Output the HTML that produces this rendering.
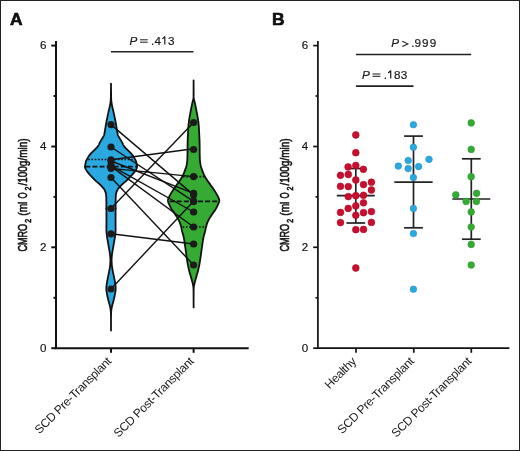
<!DOCTYPE html>
<html><head><meta charset="utf-8"><style>
html,body{margin:0;padding:0;background:#fff;}
svg{display:block;will-change:transform;}
text{font-family:"Liberation Sans",sans-serif;fill:#111;}
.lbl{font-weight:bold;font-size:17.4px;stroke:#000;stroke-width:0.6px;}
.tk{font-size:11.6px;stroke:#111;stroke-width:0.15px;}
.xl{font-size:12px;letter-spacing:-0.3px;fill:#1a1a1a;}
.pv{font-size:11.7px;fill:#1a1a1a;stroke:#1a1a1a;stroke-width:0.2px;}
.yl{stroke:#111;stroke-width:0.6px;}
.sub{font-size:9.5px;}
.ax{stroke:#111;stroke-width:2;}
.ax2{stroke:#111;stroke-width:1.7;}
.sb{stroke:#222;stroke-width:1.6;}
.eb{stroke:#222;stroke-width:1.7;}
.pl{stroke:#111;stroke-width:1.4;}
.qd{stroke:#111;stroke-width:1.6;stroke-dasharray:1.6 1.7;}
.md{stroke:#111;stroke-width:1.8;stroke-dasharray:5 2.1;}
</style></head><body>
<svg width="520" height="451" viewBox="0 0 520 451">
<rect x="0.5" y="0.5" width="519" height="450" fill="none" stroke="#222" stroke-width="1"/>
<text x="10" y="25" class="lbl">A</text>
<line x1="56" y1="41" x2="56" y2="349.1" class="ax"/>
<line x1="51.3" y1="348.2" x2="56" y2="348.2" class="ax"/>
<text x="46.5" y="351.6" class="tk" text-anchor="end">0</text>
<line x1="51.3" y1="247.3" x2="56" y2="247.3" class="ax"/>
<text x="46.5" y="250.7" class="tk" text-anchor="end">2</text>
<line x1="51.3" y1="146.5" x2="56" y2="146.5" class="ax"/>
<text x="46.5" y="149.9" class="tk" text-anchor="end">4</text>
<line x1="51.3" y1="45.6" x2="56" y2="45.6" class="ax"/>
<text x="46.5" y="49.0" class="tk" text-anchor="end">6</text>
<line x1="53.5" y1="297.8" x2="56" y2="297.8" class="ax"/>
<line x1="53.5" y1="196.9" x2="56" y2="196.9" class="ax"/>
<line x1="53.5" y1="96.0" x2="56" y2="96.0" class="ax"/>
<line x1="55" y1="348.2" x2="248.7" y2="348.2" class="ax"/>
<line x1="111.0" y1="348.2" x2="111.0" y2="352.8" class="ax"/>
<line x1="193.6" y1="348.2" x2="193.6" y2="352.8" class="ax"/>
<text class="yl" font-size="13.0" transform="translate(27.00,251.60) rotate(-90) scale(0.7,1)">CMRO</text><text class="yl" font-size="8.8" transform="translate(31.30,222.80) rotate(-90) scale(0.8,1)">2</text><text class="yl" font-size="13.0" transform="translate(27.00,215.70) rotate(-90) scale(0.78,1)">(ml</text><text class="yl" font-size="13.0" transform="translate(27.00,198.40) rotate(-90) scale(0.61,1)">O</text><text class="yl" font-size="8.8" transform="translate(31.30,190.40) rotate(-90) scale(0.8,1)">2</text><text class="yl" font-size="13.0" transform="translate(27.00,185.60) rotate(-90) scale(0.77,1)">/100g/min)</text>
<text class="xl" text-anchor="end" transform="translate(111.8,362.2) rotate(-45)">SCD Pre-Transplant</text>
<text class="xl" text-anchor="end" transform="translate(194.4,362.2) rotate(-45)">SCD Post-Transplant</text>
<line x1="111" y1="51.8" x2="193.5" y2="51.8" class="sb"/>
<text x="129.5" y="44.8" class="pv" font-style="italic" font-size="12.5">P</text>
<rect x="140" y="39.3" width="7.7" height="1.0" fill="#1a1a1a"/><rect x="140" y="41.7" width="7.7" height="1.0" fill="#1a1a1a"/>
<text x="150.93 154.5" y="44.6" class="pv">.4</text><text x="168.0" y="44.6" class="pv">3</text>
<path d="M164.8,44.6 V36.7 L162.4,38.9" fill="none" stroke="#1a1a1a" stroke-width="1.2" stroke-linejoin="round"/>
<path d="M111.00,83.60 L111.00,84.10 L111.00,84.60 L111.01,85.10 L111.01,85.60 L111.01,86.10 L111.01,86.60 L111.02,87.10 L111.02,87.60 L111.03,88.10 L111.03,88.60 L111.03,89.10 L111.04,89.60 L111.04,90.10 L111.05,90.60 L111.05,91.10 L111.06,91.60 L111.07,92.10 L111.07,92.60 L111.08,93.10 L111.08,93.60 L111.09,94.10 L111.10,94.60 L111.10,95.10 L111.11,95.60 L111.11,96.10 L111.12,96.60 L111.13,97.10 L111.14,97.60 L111.16,98.10 L111.18,98.60 L111.20,99.10 L111.24,99.60 L111.27,100.10 L111.32,100.60 L111.36,101.10 L111.42,101.60 L111.48,102.10 L111.54,102.60 L111.62,103.10 L111.70,103.60 L111.78,104.10 L111.87,104.60 L111.96,105.10 L112.05,105.60 L112.15,106.10 L112.26,106.60 L112.38,107.10 L112.49,107.60 L112.61,108.10 L112.73,108.60 L112.85,109.10 L112.97,109.60 L113.09,110.10 L113.21,110.60 L113.32,111.10 L113.43,111.60 L113.54,112.10 L113.66,112.60 L113.77,113.10 L113.88,113.60 L113.99,114.10 L114.10,114.60 L114.21,115.10 L114.31,115.60 L114.42,116.10 L114.53,116.60 L114.63,117.10 L114.73,117.60 L114.83,118.10 L114.93,118.60 L115.03,119.10 L115.13,119.60 L115.23,120.10 L115.33,120.60 L115.42,121.10 L115.52,121.60 L115.61,122.10 L115.70,122.60 L115.79,123.10 L115.89,123.60 L115.97,124.10 L116.06,124.60 L116.15,125.10 L116.23,125.60 L116.31,126.10 L116.40,126.60 L116.48,127.10 L116.56,127.60 L116.64,128.10 L116.73,128.60 L116.81,129.10 L116.90,129.60 L116.98,130.10 L117.06,130.60 L117.14,131.10 L117.21,131.60 L117.29,132.10 L117.37,132.60 L117.47,133.10 L117.57,133.60 L117.68,134.10 L117.82,134.60 L117.99,135.10 L118.19,135.60 L118.43,136.10 L118.70,136.60 L118.97,137.10 L119.25,137.60 L119.53,138.10 L119.82,138.60 L120.12,139.10 L120.44,139.60 L120.75,140.10 L121.07,140.60 L121.37,141.10 L121.66,141.60 L121.93,142.10 L122.18,142.60 L122.41,143.10 L122.63,143.60 L122.86,144.10 L123.10,144.60 L123.38,145.10 L123.69,145.60 L124.04,146.10 L124.42,146.60 L124.82,147.10 L125.24,147.60 L125.69,148.10 L126.17,148.60 L126.67,149.10 L127.19,149.60 L127.70,150.10 L128.22,150.60 L128.74,151.10 L129.27,151.60 L129.79,152.10 L130.29,152.60 L130.78,153.10 L131.23,153.60 L131.65,154.10 L132.05,154.60 L132.42,155.10 L132.78,155.60 L133.13,156.10 L133.46,156.60 L133.77,157.10 L134.08,157.60 L134.37,158.10 L134.67,158.60 L134.95,159.10 L135.22,159.60 L135.48,160.10 L135.71,160.60 L135.92,161.10 L136.09,161.60 L136.23,162.10 L136.35,162.60 L136.46,163.10 L136.56,163.60 L136.65,164.10 L136.74,164.60 L136.83,165.10 L136.92,165.60 L137.01,166.10 L137.05,166.60 L137.02,167.10 L136.90,167.60 L136.72,168.10 L136.49,168.60 L136.25,169.10 L135.99,169.60 L135.71,170.10 L135.41,170.60 L135.07,171.10 L134.71,171.60 L134.34,172.10 L133.95,172.60 L133.55,173.10 L133.15,173.60 L132.72,174.10 L132.28,174.60 L131.81,175.10 L131.34,175.60 L130.86,176.10 L130.38,176.60 L129.90,177.10 L129.43,177.60 L128.96,178.10 L128.49,178.60 L128.01,179.10 L127.52,179.60 L127.03,180.10 L126.51,180.60 L125.97,181.10 L125.41,181.60 L124.82,182.10 L124.21,182.60 L123.61,183.10 L123.04,183.60 L122.49,184.10 L121.96,184.60 L121.44,185.10 L120.95,185.60 L120.47,186.10 L120.00,186.60 L119.55,187.10 L119.11,187.60 L118.69,188.10 L118.30,188.60 L117.95,189.10 L117.64,189.60 L117.36,190.10 L117.11,190.60 L116.88,191.10 L116.68,191.60 L116.51,192.10 L116.36,192.60 L116.23,193.10 L116.12,193.60 L116.02,194.10 L115.94,194.60 L115.89,195.10 L115.84,195.60 L115.80,196.10 L115.77,196.60 L115.74,197.10 L115.72,197.60 L115.70,198.10 L115.69,198.60 L115.68,199.10 L115.67,199.60 L115.66,200.10 L115.65,200.60 L115.64,201.10 L115.63,201.60 L115.63,202.10 L115.62,202.60 L115.62,203.10 L115.61,203.60 L115.61,204.10 L115.60,204.60 L115.60,205.10 L115.60,205.60 L115.59,206.10 L115.59,206.60 L115.59,207.10 L115.58,207.60 L115.58,208.10 L115.58,208.60 L115.58,209.10 L115.57,209.60 L115.57,210.10 L115.57,210.60 L115.57,211.10 L115.56,211.60 L115.56,212.10 L115.56,212.60 L115.56,213.10 L115.56,213.60 L115.56,214.10 L115.55,214.60 L115.55,215.10 L115.55,215.60 L115.55,216.10 L115.55,216.60 L115.55,217.10 L115.55,217.60 L115.55,218.10 L115.55,218.60 L115.55,219.10 L115.55,219.60 L115.55,220.10 L115.56,220.60 L115.56,221.10 L115.56,221.60 L115.56,222.10 L115.57,222.60 L115.57,223.10 L115.57,223.60 L115.58,224.10 L115.58,224.60 L115.58,225.10 L115.58,225.60 L115.59,226.10 L115.59,226.60 L115.59,227.10 L115.59,227.60 L115.60,228.10 L115.60,228.60 L115.60,229.10 L115.60,229.60 L115.60,230.10 L115.59,230.60 L115.57,231.10 L115.54,231.60 L115.50,232.10 L115.45,232.60 L115.40,233.10 L115.35,233.60 L115.30,234.10 L115.24,234.60 L115.19,235.10 L115.13,235.60 L115.06,236.10 L114.99,236.60 L114.92,237.10 L114.84,237.60 L114.76,238.10 L114.68,238.60 L114.60,239.10 L114.52,239.60 L114.43,240.10 L114.35,240.60 L114.27,241.10 L114.19,241.60 L114.10,242.10 L114.02,242.60 L113.93,243.10 L113.84,243.60 L113.76,244.10 L113.67,244.60 L113.58,245.10 L113.49,245.60 L113.40,246.10 L113.31,246.60 L113.22,247.10 L113.12,247.60 L113.03,248.10 L112.94,248.60 L112.85,249.10 L112.77,249.60 L112.68,250.10 L112.60,250.60 L112.52,251.10 L112.43,251.60 L112.35,252.10 L112.27,252.60 L112.19,253.10 L112.12,253.60 L112.05,254.10 L111.99,254.60 L111.94,255.10 L111.89,255.60 L111.84,256.10 L111.80,256.60 L111.75,257.10 L111.71,257.60 L111.67,258.10 L111.64,258.60 L111.62,259.10 L111.61,259.60 L111.60,260.10 L111.61,260.60 L111.62,261.10 L111.64,261.60 L111.66,262.10 L111.69,262.60 L111.72,263.10 L111.75,263.60 L111.78,264.10 L111.82,264.60 L111.86,265.10 L111.91,265.60 L111.97,266.10 L112.03,266.60 L112.10,267.10 L112.18,267.60 L112.27,268.10 L112.35,268.60 L112.44,269.10 L112.53,269.60 L112.62,270.10 L112.71,270.60 L112.80,271.10 L112.90,271.60 L113.00,272.10 L113.10,272.60 L113.21,273.10 L113.31,273.60 L113.42,274.10 L113.52,274.60 L113.62,275.10 L113.72,275.60 L113.82,276.10 L113.92,276.60 L114.03,277.10 L114.13,277.60 L114.23,278.10 L114.33,278.60 L114.43,279.10 L114.52,279.60 L114.62,280.10 L114.71,280.60 L114.81,281.10 L114.91,281.60 L115.00,282.10 L115.09,282.60 L115.17,283.10 L115.24,283.60 L115.31,284.10 L115.38,284.60 L115.44,285.10 L115.50,285.60 L115.56,286.10 L115.61,286.60 L115.65,287.10 L115.68,287.60 L115.69,288.10 L115.69,288.60 L115.67,289.10 L115.64,289.60 L115.59,290.10 L115.54,290.60 L115.47,291.10 L115.40,291.60 L115.32,292.10 L115.23,292.60 L115.14,293.10 L115.05,293.60 L114.96,294.10 L114.87,294.60 L114.78,295.10 L114.69,295.60 L114.60,296.10 L114.49,296.60 L114.39,297.10 L114.28,297.60 L114.16,298.10 L114.04,298.60 L113.92,299.10 L113.80,299.60 L113.68,300.10 L113.55,300.60 L113.42,301.10 L113.30,301.60 L113.17,302.10 L113.03,302.60 L112.89,303.10 L112.75,303.60 L112.60,304.10 L112.46,304.60 L112.33,305.10 L112.20,305.60 L112.08,306.10 L111.97,306.60 L111.85,307.10 L111.75,307.60 L111.65,308.10 L111.56,308.60 L111.47,309.10 L111.40,309.60 L111.34,310.10 L111.28,310.60 L111.23,311.10 L111.19,311.60 L111.15,312.10 L111.12,312.60 L111.10,313.10 L111.09,313.60 L111.07,314.10 L111.06,314.60 L111.05,315.10 L111.04,315.60 L111.03,316.10 L111.03,316.60 L111.02,317.10 L111.01,317.60 L111.01,318.10 L111.00,318.60 L111.00,319.10 L111.00,319.60 L111.00,320.10 L111.00,320.60 L111.00,321.10 L111.00,321.60 L111.00,322.10 L111.00,322.60 L111.00,323.10 L111.00,323.60 L111.00,324.10 L111.00,324.60 L111.00,325.10 L111.00,325.60 L111.00,326.10 L111.00,326.60 L111.00,327.10 L111.00,327.60 L111.00,328.10 L111.00,328.60 L111.00,329.10 L111.00,329.60 L111.00,330.10 L111.00,330.60 L111.00,330.60 L111.00,330.10 L111.00,329.60 L111.00,329.10 L111.00,328.60 L111.00,328.10 L111.00,327.60 L111.00,327.10 L111.00,326.60 L111.00,326.10 L111.00,325.60 L111.00,325.10 L111.00,324.60 L111.00,324.10 L111.00,323.60 L111.00,323.10 L111.00,322.60 L111.00,322.10 L111.00,321.60 L111.00,321.10 L111.00,320.60 L111.00,320.10 L111.00,319.60 L111.00,319.10 L111.00,318.60 L110.99,318.10 L110.99,317.60 L110.98,317.10 L110.97,316.60 L110.97,316.10 L110.96,315.60 L110.95,315.10 L110.94,314.60 L110.93,314.10 L110.91,313.60 L110.90,313.10 L110.88,312.60 L110.85,312.10 L110.81,311.60 L110.77,311.10 L110.72,310.60 L110.66,310.10 L110.60,309.60 L110.53,309.10 L110.44,308.60 L110.35,308.10 L110.25,307.60 L110.15,307.10 L110.03,306.60 L109.92,306.10 L109.80,305.60 L109.67,305.10 L109.54,304.60 L109.40,304.10 L109.25,303.60 L109.11,303.10 L108.97,302.60 L108.83,302.10 L108.70,301.60 L108.58,301.10 L108.45,300.60 L108.32,300.10 L108.20,299.60 L108.08,299.10 L107.96,298.60 L107.84,298.10 L107.72,297.60 L107.61,297.10 L107.51,296.60 L107.40,296.10 L107.31,295.60 L107.22,295.10 L107.13,294.60 L107.04,294.10 L106.95,293.60 L106.86,293.10 L106.77,292.60 L106.68,292.10 L106.60,291.60 L106.53,291.10 L106.46,290.60 L106.41,290.10 L106.36,289.60 L106.33,289.10 L106.31,288.60 L106.31,288.10 L106.32,287.60 L106.35,287.10 L106.39,286.60 L106.44,286.10 L106.50,285.60 L106.56,285.10 L106.62,284.60 L106.69,284.10 L106.76,283.60 L106.83,283.10 L106.91,282.60 L107.00,282.10 L107.09,281.60 L107.19,281.10 L107.29,280.60 L107.38,280.10 L107.48,279.60 L107.57,279.10 L107.67,278.60 L107.77,278.10 L107.87,277.60 L107.97,277.10 L108.08,276.60 L108.18,276.10 L108.28,275.60 L108.38,275.10 L108.48,274.60 L108.58,274.10 L108.69,273.60 L108.79,273.10 L108.90,272.60 L109.00,272.10 L109.10,271.60 L109.20,271.10 L109.29,270.60 L109.38,270.10 L109.47,269.60 L109.56,269.10 L109.65,268.60 L109.73,268.10 L109.82,267.60 L109.90,267.10 L109.97,266.60 L110.03,266.10 L110.09,265.60 L110.14,265.10 L110.18,264.60 L110.22,264.10 L110.25,263.60 L110.28,263.10 L110.31,262.60 L110.34,262.10 L110.36,261.60 L110.38,261.10 L110.39,260.60 L110.40,260.10 L110.39,259.60 L110.38,259.10 L110.36,258.60 L110.33,258.10 L110.29,257.60 L110.25,257.10 L110.20,256.60 L110.16,256.10 L110.11,255.60 L110.06,255.10 L110.01,254.60 L109.95,254.10 L109.88,253.60 L109.81,253.10 L109.73,252.60 L109.65,252.10 L109.57,251.60 L109.48,251.10 L109.40,250.60 L109.32,250.10 L109.23,249.60 L109.15,249.10 L109.06,248.60 L108.97,248.10 L108.88,247.60 L108.78,247.10 L108.69,246.60 L108.60,246.10 L108.51,245.60 L108.42,245.10 L108.33,244.60 L108.24,244.10 L108.16,243.60 L108.07,243.10 L107.98,242.60 L107.90,242.10 L107.81,241.60 L107.73,241.10 L107.65,240.60 L107.57,240.10 L107.48,239.60 L107.40,239.10 L107.32,238.60 L107.24,238.10 L107.16,237.60 L107.08,237.10 L107.01,236.60 L106.94,236.10 L106.87,235.60 L106.81,235.10 L106.76,234.60 L106.70,234.10 L106.65,233.60 L106.60,233.10 L106.55,232.60 L106.50,232.10 L106.46,231.60 L106.43,231.10 L106.41,230.60 L106.40,230.10 L106.40,229.60 L106.40,229.10 L106.40,228.60 L106.40,228.10 L106.41,227.60 L106.41,227.10 L106.41,226.60 L106.41,226.10 L106.42,225.60 L106.42,225.10 L106.42,224.60 L106.42,224.10 L106.43,223.60 L106.43,223.10 L106.43,222.60 L106.44,222.10 L106.44,221.60 L106.44,221.10 L106.44,220.60 L106.45,220.10 L106.45,219.60 L106.45,219.10 L106.45,218.60 L106.45,218.10 L106.45,217.60 L106.45,217.10 L106.45,216.60 L106.45,216.10 L106.45,215.60 L106.45,215.10 L106.45,214.60 L106.44,214.10 L106.44,213.60 L106.44,213.10 L106.44,212.60 L106.44,212.10 L106.44,211.60 L106.43,211.10 L106.43,210.60 L106.43,210.10 L106.43,209.60 L106.42,209.10 L106.42,208.60 L106.42,208.10 L106.42,207.60 L106.41,207.10 L106.41,206.60 L106.41,206.10 L106.40,205.60 L106.40,205.10 L106.40,204.60 L106.39,204.10 L106.39,203.60 L106.38,203.10 L106.38,202.60 L106.37,202.10 L106.37,201.60 L106.36,201.10 L106.35,200.60 L106.34,200.10 L106.33,199.60 L106.32,199.10 L106.31,198.60 L106.30,198.10 L106.28,197.60 L106.26,197.10 L106.23,196.60 L106.20,196.10 L106.16,195.60 L106.11,195.10 L106.06,194.60 L105.98,194.10 L105.88,193.60 L105.77,193.10 L105.64,192.60 L105.49,192.10 L105.32,191.60 L105.12,191.10 L104.89,190.60 L104.64,190.10 L104.36,189.60 L104.05,189.10 L103.70,188.60 L103.31,188.10 L102.89,187.60 L102.45,187.10 L102.00,186.60 L101.53,186.10 L101.05,185.60 L100.56,185.10 L100.04,184.60 L99.51,184.10 L98.96,183.60 L98.39,183.10 L97.79,182.60 L97.18,182.10 L96.59,181.60 L96.03,181.10 L95.49,180.60 L94.97,180.10 L94.48,179.60 L93.99,179.10 L93.51,178.60 L93.04,178.10 L92.57,177.60 L92.10,177.10 L91.62,176.60 L91.14,176.10 L90.66,175.60 L90.19,175.10 L89.72,174.60 L89.28,174.10 L88.85,173.60 L88.45,173.10 L88.05,172.60 L87.66,172.10 L87.29,171.60 L86.93,171.10 L86.59,170.60 L86.29,170.10 L86.01,169.60 L85.75,169.10 L85.51,168.60 L85.28,168.10 L85.10,167.60 L84.98,167.10 L84.95,166.60 L84.99,166.10 L85.08,165.60 L85.17,165.10 L85.26,164.60 L85.35,164.10 L85.44,163.60 L85.54,163.10 L85.65,162.60 L85.77,162.10 L85.91,161.60 L86.08,161.10 L86.29,160.60 L86.52,160.10 L86.78,159.60 L87.05,159.10 L87.33,158.60 L87.63,158.10 L87.92,157.60 L88.23,157.10 L88.54,156.60 L88.87,156.10 L89.22,155.60 L89.58,155.10 L89.95,154.60 L90.35,154.10 L90.77,153.60 L91.22,153.10 L91.71,152.60 L92.21,152.10 L92.73,151.60 L93.26,151.10 L93.78,150.60 L94.30,150.10 L94.81,149.60 L95.33,149.10 L95.83,148.60 L96.31,148.10 L96.76,147.60 L97.18,147.10 L97.58,146.60 L97.96,146.10 L98.31,145.60 L98.62,145.10 L98.90,144.60 L99.14,144.10 L99.37,143.60 L99.59,143.10 L99.82,142.60 L100.07,142.10 L100.34,141.60 L100.63,141.10 L100.93,140.60 L101.25,140.10 L101.56,139.60 L101.88,139.10 L102.18,138.60 L102.47,138.10 L102.75,137.60 L103.03,137.10 L103.30,136.60 L103.57,136.10 L103.81,135.60 L104.01,135.10 L104.18,134.60 L104.32,134.10 L104.43,133.60 L104.53,133.10 L104.63,132.60 L104.71,132.10 L104.79,131.60 L104.86,131.10 L104.94,130.60 L105.02,130.10 L105.10,129.60 L105.19,129.10 L105.27,128.60 L105.36,128.10 L105.44,127.60 L105.52,127.10 L105.60,126.60 L105.69,126.10 L105.77,125.60 L105.85,125.10 L105.94,124.60 L106.03,124.10 L106.11,123.60 L106.21,123.10 L106.30,122.60 L106.39,122.10 L106.48,121.60 L106.58,121.10 L106.67,120.60 L106.77,120.10 L106.87,119.60 L106.97,119.10 L107.07,118.60 L107.17,118.10 L107.27,117.60 L107.37,117.10 L107.47,116.60 L107.58,116.10 L107.69,115.60 L107.79,115.10 L107.90,114.60 L108.01,114.10 L108.12,113.60 L108.23,113.10 L108.34,112.60 L108.46,112.10 L108.57,111.60 L108.68,111.10 L108.79,110.60 L108.91,110.10 L109.03,109.60 L109.15,109.10 L109.27,108.60 L109.39,108.10 L109.51,107.60 L109.62,107.10 L109.74,106.60 L109.85,106.10 L109.95,105.60 L110.04,105.10 L110.13,104.60 L110.22,104.10 L110.30,103.60 L110.38,103.10 L110.46,102.60 L110.52,102.10 L110.58,101.60 L110.64,101.10 L110.68,100.60 L110.73,100.10 L110.76,99.60 L110.80,99.10 L110.82,98.60 L110.84,98.10 L110.86,97.60 L110.87,97.10 L110.88,96.60 L110.89,96.10 L110.89,95.60 L110.90,95.10 L110.90,94.60 L110.91,94.10 L110.92,93.60 L110.92,93.10 L110.93,92.60 L110.93,92.10 L110.94,91.60 L110.95,91.10 L110.95,90.60 L110.96,90.10 L110.96,89.60 L110.97,89.10 L110.97,88.60 L110.97,88.10 L110.98,87.60 L110.98,87.10 L110.99,86.60 L110.99,86.10 L110.99,85.60 L110.99,85.10 L111.00,84.60 L111.00,84.10 L111.00,83.60 Z" fill="#2AA8E0" stroke="#111" stroke-width="1.8" stroke-linejoin="round"/>
<path d="M193.60,80.40 L193.60,80.90 L193.60,81.40 L193.60,81.90 L193.60,82.40 L193.60,82.90 L193.60,83.40 L193.60,83.90 L193.60,84.40 L193.61,84.90 L193.61,85.40 L193.61,85.90 L193.61,86.40 L193.61,86.90 L193.61,87.40 L193.62,87.90 L193.62,88.40 L193.62,88.90 L193.62,89.40 L193.62,89.90 L193.63,90.40 L193.63,90.90 L193.63,91.40 L193.64,91.90 L193.64,92.40 L193.64,92.90 L193.65,93.40 L193.65,93.90 L193.65,94.40 L193.66,94.90 L193.67,95.40 L193.68,95.90 L193.70,96.40 L193.72,96.90 L193.76,97.40 L193.82,97.90 L193.88,98.40 L193.96,98.90 L194.04,99.40 L194.13,99.90 L194.24,100.40 L194.36,100.90 L194.49,101.40 L194.62,101.90 L194.75,102.40 L194.87,102.90 L194.98,103.40 L195.09,103.90 L195.19,104.40 L195.29,104.90 L195.39,105.40 L195.49,105.90 L195.59,106.40 L195.69,106.90 L195.79,107.40 L195.88,107.90 L195.98,108.40 L196.08,108.90 L196.18,109.40 L196.28,109.90 L196.38,110.40 L196.48,110.90 L196.58,111.40 L196.68,111.90 L196.78,112.40 L196.87,112.90 L196.97,113.40 L197.06,113.90 L197.16,114.40 L197.25,114.90 L197.34,115.40 L197.42,115.90 L197.51,116.40 L197.60,116.90 L197.69,117.40 L197.77,117.90 L197.86,118.40 L197.94,118.90 L198.02,119.40 L198.09,119.90 L198.17,120.40 L198.23,120.90 L198.30,121.40 L198.36,121.90 L198.42,122.40 L198.47,122.90 L198.53,123.40 L198.58,123.90 L198.63,124.40 L198.68,124.90 L198.73,125.40 L198.77,125.90 L198.81,126.40 L198.85,126.90 L198.89,127.40 L198.92,127.90 L198.95,128.40 L198.98,128.90 L199.00,129.40 L199.03,129.90 L199.05,130.40 L199.07,130.90 L199.10,131.40 L199.12,131.90 L199.14,132.40 L199.16,132.90 L199.19,133.40 L199.21,133.90 L199.24,134.40 L199.26,134.90 L199.29,135.40 L199.31,135.90 L199.34,136.40 L199.37,136.90 L199.39,137.40 L199.41,137.90 L199.44,138.40 L199.46,138.90 L199.48,139.40 L199.50,139.90 L199.52,140.40 L199.54,140.90 L199.56,141.40 L199.57,141.90 L199.58,142.40 L199.59,142.90 L199.60,143.40 L199.61,143.90 L199.62,144.40 L199.62,144.90 L199.63,145.40 L199.63,145.90 L199.64,146.40 L199.64,146.90 L199.65,147.40 L199.65,147.90 L199.65,148.40 L199.66,148.90 L199.66,149.40 L199.67,149.90 L199.67,150.40 L199.68,150.90 L199.68,151.40 L199.69,151.90 L199.69,152.40 L199.70,152.90 L199.71,153.40 L199.72,153.90 L199.73,154.40 L199.74,154.90 L199.75,155.40 L199.76,155.90 L199.77,156.40 L199.78,156.90 L199.80,157.40 L199.82,157.90 L199.83,158.40 L199.85,158.90 L199.87,159.40 L199.90,159.90 L199.93,160.40 L199.97,160.90 L200.02,161.40 L200.08,161.90 L200.15,162.40 L200.23,162.90 L200.31,163.40 L200.40,163.90 L200.49,164.40 L200.58,164.90 L200.69,165.40 L200.81,165.90 L200.93,166.40 L201.08,166.90 L201.23,167.40 L201.39,167.90 L201.55,168.40 L201.72,168.90 L201.89,169.40 L202.07,169.90 L202.24,170.40 L202.42,170.90 L202.60,171.40 L202.79,171.90 L202.98,172.40 L203.18,172.90 L203.38,173.40 L203.60,173.90 L203.82,174.40 L204.06,174.90 L204.31,175.40 L204.57,175.90 L204.85,176.40 L205.14,176.90 L205.44,177.40 L205.75,177.90 L206.07,178.40 L206.39,178.90 L206.71,179.40 L207.04,179.90 L207.37,180.40 L207.70,180.90 L208.04,181.40 L208.39,181.90 L208.75,182.40 L209.10,182.90 L209.46,183.40 L209.82,183.90 L210.18,184.40 L210.53,184.90 L210.88,185.40 L211.24,185.90 L211.60,186.40 L211.95,186.90 L212.31,187.40 L212.67,187.90 L213.02,188.40 L213.36,188.90 L213.70,189.40 L214.03,189.90 L214.36,190.40 L214.68,190.90 L214.99,191.40 L215.30,191.90 L215.61,192.40 L215.91,192.90 L216.21,193.40 L216.49,193.90 L216.77,194.40 L217.05,194.90 L217.32,195.40 L217.59,195.90 L217.86,196.40 L218.12,196.90 L218.36,197.40 L218.59,197.90 L218.79,198.40 L218.96,198.90 L219.10,199.40 L219.21,199.90 L219.26,200.40 L219.23,200.90 L219.15,201.40 L219.04,201.90 L218.89,202.40 L218.72,202.90 L218.51,203.40 L218.28,203.90 L218.05,204.40 L217.83,204.90 L217.60,205.40 L217.37,205.90 L217.14,206.40 L216.90,206.90 L216.65,207.40 L216.39,207.90 L216.12,208.40 L215.84,208.90 L215.53,209.40 L215.21,209.90 L214.86,210.40 L214.50,210.90 L214.13,211.40 L213.76,211.90 L213.39,212.40 L213.03,212.90 L212.69,213.40 L212.34,213.90 L212.01,214.40 L211.67,214.90 L211.34,215.40 L211.01,215.90 L210.69,216.40 L210.38,216.90 L210.08,217.40 L209.79,217.90 L209.50,218.40 L209.21,218.90 L208.93,219.40 L208.66,219.90 L208.39,220.40 L208.14,220.90 L207.91,221.40 L207.68,221.90 L207.48,222.40 L207.28,222.90 L207.09,223.40 L206.92,223.90 L206.75,224.40 L206.59,224.90 L206.44,225.40 L206.29,225.90 L206.16,226.40 L206.03,226.90 L205.91,227.40 L205.81,227.90 L205.71,228.40 L205.61,228.90 L205.51,229.40 L205.41,229.90 L205.31,230.40 L205.19,230.90 L205.07,231.40 L204.93,231.90 L204.79,232.40 L204.64,232.90 L204.49,233.40 L204.34,233.90 L204.20,234.40 L204.06,234.90 L203.93,235.40 L203.81,235.90 L203.69,236.40 L203.59,236.90 L203.48,237.40 L203.38,237.90 L203.28,238.40 L203.19,238.90 L203.10,239.40 L203.02,239.90 L202.94,240.40 L202.87,240.90 L202.80,241.40 L202.73,241.90 L202.66,242.40 L202.59,242.90 L202.52,243.40 L202.45,243.90 L202.38,244.40 L202.30,244.90 L202.23,245.40 L202.15,245.90 L202.08,246.40 L202.00,246.90 L201.93,247.40 L201.86,247.90 L201.79,248.40 L201.72,248.90 L201.65,249.40 L201.58,249.90 L201.51,250.40 L201.45,250.90 L201.38,251.40 L201.31,251.90 L201.24,252.40 L201.17,252.90 L201.10,253.40 L201.03,253.90 L200.96,254.40 L200.89,254.90 L200.81,255.40 L200.74,255.90 L200.67,256.40 L200.59,256.90 L200.52,257.40 L200.45,257.90 L200.38,258.40 L200.31,258.90 L200.23,259.40 L200.16,259.90 L200.09,260.40 L200.01,260.90 L199.93,261.40 L199.85,261.90 L199.77,262.40 L199.68,262.90 L199.59,263.40 L199.50,263.90 L199.41,264.40 L199.31,264.90 L199.22,265.40 L199.12,265.90 L199.02,266.40 L198.92,266.90 L198.81,267.40 L198.70,267.90 L198.59,268.40 L198.48,268.90 L198.37,269.40 L198.25,269.90 L198.12,270.40 L197.99,270.90 L197.86,271.40 L197.72,271.90 L197.57,272.40 L197.42,272.90 L197.27,273.40 L197.12,273.90 L196.98,274.40 L196.83,274.90 L196.69,275.40 L196.54,275.90 L196.40,276.40 L196.26,276.90 L196.11,277.40 L195.97,277.90 L195.83,278.40 L195.69,278.90 L195.56,279.40 L195.43,279.90 L195.30,280.40 L195.17,280.90 L195.03,281.40 L194.91,281.90 L194.78,282.40 L194.66,282.90 L194.54,283.40 L194.42,283.90 L194.32,284.40 L194.22,284.90 L194.13,285.40 L194.03,285.90 L193.95,286.40 L193.87,286.90 L193.81,287.40 L193.76,287.90 L193.74,288.40 L193.72,288.90 L193.70,289.40 L193.68,289.90 L193.67,290.40 L193.66,290.90 L193.66,291.40 L193.65,291.90 L193.65,292.40 L193.64,292.90 L193.64,293.40 L193.64,293.90 L193.64,294.40 L193.63,294.90 L193.63,295.40 L193.63,295.90 L193.63,296.40 L193.62,296.90 L193.62,297.40 L193.62,297.90 L193.62,298.40 L193.61,298.90 L193.61,299.40 L193.61,299.90 L193.61,300.40 L193.61,300.90 L193.61,301.40 L193.61,301.90 L193.61,302.40 L193.60,302.90 L193.60,303.40 L193.60,303.90 L193.60,304.40 L193.60,304.90 L193.60,305.40 L193.60,305.90 L193.60,306.40 L193.60,306.90 L193.60,307.40 L193.60,307.40 L193.60,306.90 L193.60,306.40 L193.60,305.90 L193.60,305.40 L193.60,304.90 L193.60,304.40 L193.60,303.90 L193.60,303.40 L193.60,302.90 L193.59,302.40 L193.59,301.90 L193.59,301.40 L193.59,300.90 L193.59,300.40 L193.59,299.90 L193.59,299.40 L193.59,298.90 L193.58,298.40 L193.58,297.90 L193.58,297.40 L193.58,296.90 L193.57,296.40 L193.57,295.90 L193.57,295.40 L193.57,294.90 L193.56,294.40 L193.56,293.90 L193.56,293.40 L193.56,292.90 L193.55,292.40 L193.55,291.90 L193.54,291.40 L193.54,290.90 L193.53,290.40 L193.52,289.90 L193.50,289.40 L193.48,288.90 L193.46,288.40 L193.44,287.90 L193.39,287.40 L193.33,286.90 L193.25,286.40 L193.17,285.90 L193.07,285.40 L192.98,284.90 L192.88,284.40 L192.78,283.90 L192.66,283.40 L192.54,282.90 L192.42,282.40 L192.29,281.90 L192.17,281.40 L192.03,280.90 L191.90,280.40 L191.77,279.90 L191.64,279.40 L191.51,278.90 L191.37,278.40 L191.23,277.90 L191.09,277.40 L190.94,276.90 L190.80,276.40 L190.66,275.90 L190.51,275.40 L190.37,274.90 L190.22,274.40 L190.08,273.90 L189.93,273.40 L189.78,272.90 L189.63,272.40 L189.48,271.90 L189.34,271.40 L189.21,270.90 L189.08,270.40 L188.95,269.90 L188.83,269.40 L188.72,268.90 L188.61,268.40 L188.50,267.90 L188.39,267.40 L188.28,266.90 L188.18,266.40 L188.08,265.90 L187.98,265.40 L187.89,264.90 L187.79,264.40 L187.70,263.90 L187.61,263.40 L187.52,262.90 L187.43,262.40 L187.35,261.90 L187.27,261.40 L187.19,260.90 L187.11,260.40 L187.04,259.90 L186.97,259.40 L186.89,258.90 L186.82,258.40 L186.75,257.90 L186.68,257.40 L186.61,256.90 L186.53,256.40 L186.46,255.90 L186.39,255.40 L186.31,254.90 L186.24,254.40 L186.17,253.90 L186.10,253.40 L186.03,252.90 L185.96,252.40 L185.89,251.90 L185.82,251.40 L185.75,250.90 L185.69,250.40 L185.62,249.90 L185.55,249.40 L185.48,248.90 L185.41,248.40 L185.34,247.90 L185.27,247.40 L185.20,246.90 L185.12,246.40 L185.05,245.90 L184.97,245.40 L184.90,244.90 L184.82,244.40 L184.75,243.90 L184.68,243.40 L184.61,242.90 L184.54,242.40 L184.47,241.90 L184.40,241.40 L184.33,240.90 L184.26,240.40 L184.18,239.90 L184.10,239.40 L184.01,238.90 L183.92,238.40 L183.82,237.90 L183.72,237.40 L183.61,236.90 L183.51,236.40 L183.39,235.90 L183.27,235.40 L183.14,234.90 L183.00,234.40 L182.86,233.90 L182.71,233.40 L182.56,232.90 L182.41,232.40 L182.27,231.90 L182.13,231.40 L182.01,230.90 L181.89,230.40 L181.79,229.90 L181.69,229.40 L181.59,228.90 L181.49,228.40 L181.39,227.90 L181.29,227.40 L181.17,226.90 L181.04,226.40 L180.91,225.90 L180.76,225.40 L180.61,224.90 L180.45,224.40 L180.28,223.90 L180.11,223.40 L179.92,222.90 L179.72,222.40 L179.52,221.90 L179.29,221.40 L179.06,220.90 L178.81,220.40 L178.54,219.90 L178.27,219.40 L177.99,218.90 L177.70,218.40 L177.41,217.90 L177.12,217.40 L176.82,216.90 L176.51,216.40 L176.19,215.90 L175.86,215.40 L175.53,214.90 L175.19,214.40 L174.86,213.90 L174.51,213.40 L174.17,212.90 L173.81,212.40 L173.44,211.90 L173.07,211.40 L172.70,210.90 L172.34,210.40 L171.99,209.90 L171.67,209.40 L171.36,208.90 L171.08,208.40 L170.81,207.90 L170.55,207.40 L170.30,206.90 L170.06,206.40 L169.83,205.90 L169.60,205.40 L169.37,204.90 L169.15,204.40 L168.92,203.90 L168.69,203.40 L168.48,202.90 L168.31,202.40 L168.16,201.90 L168.05,201.40 L167.97,200.90 L167.94,200.40 L167.99,199.90 L168.10,199.40 L168.24,198.90 L168.41,198.40 L168.61,197.90 L168.84,197.40 L169.08,196.90 L169.34,196.40 L169.61,195.90 L169.88,195.40 L170.15,194.90 L170.43,194.40 L170.71,193.90 L170.99,193.40 L171.29,192.90 L171.59,192.40 L171.90,191.90 L172.21,191.40 L172.52,190.90 L172.84,190.40 L173.17,189.90 L173.50,189.40 L173.84,188.90 L174.18,188.40 L174.53,187.90 L174.89,187.40 L175.25,186.90 L175.60,186.40 L175.96,185.90 L176.32,185.40 L176.67,184.90 L177.02,184.40 L177.38,183.90 L177.74,183.40 L178.10,182.90 L178.45,182.40 L178.81,181.90 L179.16,181.40 L179.50,180.90 L179.83,180.40 L180.16,179.90 L180.49,179.40 L180.81,178.90 L181.13,178.40 L181.45,177.90 L181.76,177.40 L182.06,176.90 L182.35,176.40 L182.63,175.90 L182.89,175.40 L183.14,174.90 L183.38,174.40 L183.60,173.90 L183.82,173.40 L184.02,172.90 L184.22,172.40 L184.41,171.90 L184.60,171.40 L184.78,170.90 L184.96,170.40 L185.13,169.90 L185.31,169.40 L185.48,168.90 L185.65,168.40 L185.81,167.90 L185.97,167.40 L186.12,166.90 L186.27,166.40 L186.39,165.90 L186.51,165.40 L186.62,164.90 L186.71,164.40 L186.80,163.90 L186.89,163.40 L186.97,162.90 L187.05,162.40 L187.12,161.90 L187.18,161.40 L187.23,160.90 L187.27,160.40 L187.30,159.90 L187.33,159.40 L187.35,158.90 L187.37,158.40 L187.38,157.90 L187.40,157.40 L187.42,156.90 L187.43,156.40 L187.44,155.90 L187.45,155.40 L187.46,154.90 L187.47,154.40 L187.48,153.90 L187.49,153.40 L187.50,152.90 L187.51,152.40 L187.51,151.90 L187.52,151.40 L187.52,150.90 L187.53,150.40 L187.53,149.90 L187.54,149.40 L187.54,148.90 L187.55,148.40 L187.55,147.90 L187.55,147.40 L187.56,146.90 L187.56,146.40 L187.57,145.90 L187.57,145.40 L187.58,144.90 L187.58,144.40 L187.59,143.90 L187.60,143.40 L187.61,142.90 L187.62,142.40 L187.63,141.90 L187.64,141.40 L187.66,140.90 L187.68,140.40 L187.70,139.90 L187.72,139.40 L187.74,138.90 L187.76,138.40 L187.79,137.90 L187.81,137.40 L187.83,136.90 L187.86,136.40 L187.89,135.90 L187.91,135.40 L187.94,134.90 L187.96,134.40 L187.99,133.90 L188.01,133.40 L188.04,132.90 L188.06,132.40 L188.08,131.90 L188.10,131.40 L188.13,130.90 L188.15,130.40 L188.17,129.90 L188.20,129.40 L188.22,128.90 L188.25,128.40 L188.28,127.90 L188.31,127.40 L188.35,126.90 L188.39,126.40 L188.43,125.90 L188.47,125.40 L188.52,124.90 L188.57,124.40 L188.62,123.90 L188.67,123.40 L188.73,122.90 L188.78,122.40 L188.84,121.90 L188.90,121.40 L188.97,120.90 L189.03,120.40 L189.11,119.90 L189.18,119.40 L189.26,118.90 L189.34,118.40 L189.43,117.90 L189.51,117.40 L189.60,116.90 L189.69,116.40 L189.78,115.90 L189.86,115.40 L189.95,114.90 L190.04,114.40 L190.14,113.90 L190.23,113.40 L190.33,112.90 L190.42,112.40 L190.52,111.90 L190.62,111.40 L190.72,110.90 L190.82,110.40 L190.92,109.90 L191.02,109.40 L191.12,108.90 L191.22,108.40 L191.32,107.90 L191.41,107.40 L191.51,106.90 L191.61,106.40 L191.71,105.90 L191.81,105.40 L191.91,104.90 L192.01,104.40 L192.11,103.90 L192.22,103.40 L192.33,102.90 L192.45,102.40 L192.58,101.90 L192.71,101.40 L192.84,100.90 L192.96,100.40 L193.07,99.90 L193.16,99.40 L193.24,98.90 L193.32,98.40 L193.38,97.90 L193.44,97.40 L193.48,96.90 L193.50,96.40 L193.52,95.90 L193.53,95.40 L193.54,94.90 L193.55,94.40 L193.55,93.90 L193.55,93.40 L193.56,92.90 L193.56,92.40 L193.56,91.90 L193.57,91.40 L193.57,90.90 L193.57,90.40 L193.58,89.90 L193.58,89.40 L193.58,88.90 L193.58,88.40 L193.58,87.90 L193.59,87.40 L193.59,86.90 L193.59,86.40 L193.59,85.90 L193.59,85.40 L193.59,84.90 L193.60,84.40 L193.60,83.90 L193.60,83.40 L193.60,82.90 L193.60,82.40 L193.60,81.90 L193.60,81.40 L193.60,80.90 L193.60,80.40 Z" fill="#35AB33" stroke="#111" stroke-width="1.8" stroke-linejoin="round"/>
<line x1="88.2" y1="159.5" x2="134.0" y2="159.5" class="qd"/>
<line x1="85.3" y1="166.6" x2="137.4" y2="166.6" class="md"/>
<line x1="105.5" y1="208.5" x2="116.5" y2="208.5" class="qd"/>
<line x1="183.0" y1="176.6" x2="204.4" y2="176.6" class="qd"/>
<line x1="169.6" y1="201.4" x2="218.4" y2="201.4" class="md"/>
<line x1="182.6" y1="227.0" x2="204.8" y2="227.0" class="qd"/>
<line x1="111.0" y1="124.6" x2="193.6" y2="194.9" class="pl"/>
<line x1="111.0" y1="147.0" x2="193.6" y2="201.3" class="pl"/>
<line x1="111.0" y1="159.8" x2="193.6" y2="148.8" class="pl"/>
<line x1="111.0" y1="161.0" x2="193.6" y2="193.4" class="pl"/>
<line x1="111.0" y1="165.6" x2="193.6" y2="212.0" class="pl"/>
<line x1="111.0" y1="166.4" x2="193.6" y2="227.0" class="pl"/>
<line x1="111.0" y1="168.4" x2="193.6" y2="176.6" class="pl"/>
<line x1="111.0" y1="177.5" x2="193.6" y2="265.0" class="pl"/>
<line x1="111.0" y1="208.5" x2="193.6" y2="122.5" class="pl"/>
<line x1="111.0" y1="233.8" x2="193.6" y2="244.0" class="pl"/>
<line x1="111.0" y1="289.0" x2="193.6" y2="201.3" class="pl"/>
<circle cx="111.0" cy="124.6" r="3.6" fill="#1c1a1a"/>
<circle cx="111.0" cy="147.0" r="3.6" fill="#1c1a1a"/>
<circle cx="111.0" cy="159.8" r="3.6" fill="#1c1a1a"/>
<circle cx="111.0" cy="161.0" r="3.6" fill="#1c1a1a"/>
<circle cx="111.0" cy="165.6" r="3.6" fill="#1c1a1a"/>
<circle cx="111.0" cy="166.4" r="3.6" fill="#1c1a1a"/>
<circle cx="111.0" cy="168.4" r="3.6" fill="#1c1a1a"/>
<circle cx="111.0" cy="177.5" r="3.6" fill="#1c1a1a"/>
<circle cx="111.0" cy="208.5" r="3.6" fill="#1c1a1a"/>
<circle cx="111.0" cy="233.8" r="3.6" fill="#1c1a1a"/>
<circle cx="111.0" cy="289.0" r="3.6" fill="#1c1a1a"/>
<circle cx="193.6" cy="122.5" r="3.6" fill="#1c1a1a"/>
<circle cx="193.6" cy="149.5" r="3.6" fill="#1c1a1a"/>
<circle cx="193.6" cy="176.6" r="3.6" fill="#1c1a1a"/>
<circle cx="193.6" cy="193.4" r="3.6" fill="#1c1a1a"/>
<circle cx="193.6" cy="194.9" r="3.6" fill="#1c1a1a"/>
<circle cx="193.6" cy="201.3" r="3.6" fill="#1c1a1a"/>
<circle cx="193.6" cy="201.3" r="3.6" fill="#1c1a1a"/>
<circle cx="193.6" cy="212.0" r="3.6" fill="#1c1a1a"/>
<circle cx="193.6" cy="227.0" r="3.6" fill="#1c1a1a"/>
<circle cx="193.6" cy="244.0" r="3.6" fill="#1c1a1a"/>
<circle cx="193.6" cy="265.0" r="3.6" fill="#1c1a1a"/>
<text x="272" y="25" class="lbl">B</text>
<line x1="317.9" y1="41" x2="317.9" y2="349" class="ax2"/>
<line x1="313.2" y1="348.2" x2="317.9" y2="348.2" class="ax2"/>
<text x="308.2" y="351.6" class="tk" text-anchor="end">0</text>
<line x1="313.2" y1="247.3" x2="317.9" y2="247.3" class="ax2"/>
<text x="308.2" y="250.7" class="tk" text-anchor="end">2</text>
<line x1="313.2" y1="146.5" x2="317.9" y2="146.5" class="ax2"/>
<text x="308.2" y="149.9" class="tk" text-anchor="end">4</text>
<line x1="313.2" y1="45.6" x2="317.9" y2="45.6" class="ax2"/>
<text x="308.2" y="49.0" class="tk" text-anchor="end">6</text>
<line x1="315.5" y1="297.8" x2="317.9" y2="297.8" class="ax2"/>
<line x1="315.5" y1="196.9" x2="317.9" y2="196.9" class="ax2"/>
<line x1="315.5" y1="96.0" x2="317.9" y2="96.0" class="ax2"/>
<line x1="317" y1="348.2" x2="509.4" y2="348.2" class="ax2"/>
<line x1="356.0" y1="348.2" x2="356.0" y2="352.8" class="ax2"/>
<line x1="413.8" y1="348.2" x2="413.8" y2="352.8" class="ax2"/>
<line x1="471.3" y1="348.2" x2="471.3" y2="352.8" class="ax2"/>
<text class="yl" font-size="13.0" transform="translate(288.90,251.60) rotate(-90) scale(0.7,1)">CMRO</text><text class="yl" font-size="8.8" transform="translate(293.20,222.80) rotate(-90) scale(0.8,1)">2</text><text class="yl" font-size="13.0" transform="translate(288.90,215.70) rotate(-90) scale(0.78,1)">(ml</text><text class="yl" font-size="13.0" transform="translate(288.90,198.40) rotate(-90) scale(0.61,1)">O</text><text class="yl" font-size="8.8" transform="translate(293.20,190.40) rotate(-90) scale(0.8,1)">2</text><text class="yl" font-size="13.0" transform="translate(288.90,185.60) rotate(-90) scale(0.77,1)">/100g/min)</text>
<text class="xl" text-anchor="end" transform="translate(356.8,362.2) rotate(-45)">Healthy</text>
<text class="xl" text-anchor="end" transform="translate(414.6,362.2) rotate(-45)">SCD Pre-Transplant</text>
<text class="xl" text-anchor="end" transform="translate(472.1,362.2) rotate(-45)">SCD Post-Transplant</text>
<line x1="355.9" y1="54.5" x2="471.2" y2="54.5" class="sb"/>
<text x="391.2" y="47.0" class="pv" font-style="italic" font-size="12.5">P</text>
<polyline points="402.3,41.2 407.9,43.9 402.3,46.5" fill="none" stroke="#1a1a1a" stroke-width="1.05"/>
<text x="411.25 414.55 422.05 429.65" y="47.0" class="pv">.999</text>
<line x1="355.9" y1="86.1" x2="413.5" y2="86.1" class="sb"/>
<text x="362.1" y="78.9" class="pv" font-style="italic" font-size="12.5">P</text>
<rect x="372.5" y="73.5" width="7.9" height="1.0" fill="#1a1a1a"/><rect x="372.5" y="75.8" width="7.9" height="1.0" fill="#1a1a1a"/>
<text x="383.65" y="78.6" class="pv">.</text><text x="394.1 400.85" y="78.6" class="pv">83</text>
<path d="M390.7,78.6 V70.8 L388.1,73.0" fill="none" stroke="#1a1a1a" stroke-width="1.2" stroke-linejoin="round"/>
<line x1="355.8" y1="168.5" x2="355.8" y2="223" class="eb"/>
<line x1="346.45" y1="168.5" x2="365.15000000000003" y2="168.5" class="eb"/>
<line x1="346.45" y1="223" x2="365.15000000000003" y2="223" class="eb"/>
<line x1="336.8" y1="195.7" x2="374.8" y2="195.7" class="eb"/>
<line x1="413.5" y1="136.1" x2="413.5" y2="227.8" class="eb"/>
<line x1="404.1" y1="136.1" x2="422.9" y2="136.1" class="eb"/>
<line x1="404.1" y1="227.8" x2="422.9" y2="227.8" class="eb"/>
<line x1="394.35" y1="182.2" x2="432.65" y2="182.2" class="eb"/>
<line x1="471.3" y1="158.8" x2="471.3" y2="239.2" class="eb"/>
<line x1="461.90000000000003" y1="158.8" x2="480.7" y2="158.8" class="eb"/>
<line x1="461.90000000000003" y1="239.2" x2="480.7" y2="239.2" class="eb"/>
<line x1="452.3" y1="199.0" x2="490.3" y2="199.0" class="eb"/>
<circle cx="355.8" cy="135" r="3.4" fill="#C80F2E" stroke="#A80C28" stroke-width="0.6"/>
<circle cx="355.8" cy="152.7" r="3.4" fill="#C80F2E" stroke="#A80C28" stroke-width="0.6"/>
<circle cx="355.8" cy="165.5" r="3.4" fill="#C80F2E" stroke="#A80C28" stroke-width="0.6"/>
<circle cx="348.1" cy="167" r="3.4" fill="#C80F2E" stroke="#A80C28" stroke-width="0.6"/>
<circle cx="363.4" cy="169.3" r="3.4" fill="#C80F2E" stroke="#A80C28" stroke-width="0.6"/>
<circle cx="340.5" cy="175.3" r="3.4" fill="#C80F2E" stroke="#A80C28" stroke-width="0.6"/>
<circle cx="348.3" cy="174.5" r="3.4" fill="#C80F2E" stroke="#A80C28" stroke-width="0.6"/>
<circle cx="355.8" cy="180" r="3.4" fill="#C80F2E" stroke="#A80C28" stroke-width="0.6"/>
<circle cx="363.5" cy="184.6" r="3.4" fill="#C80F2E" stroke="#A80C28" stroke-width="0.6"/>
<circle cx="371.4" cy="182.2" r="3.4" fill="#C80F2E" stroke="#A80C28" stroke-width="0.6"/>
<circle cx="340.5" cy="186.3" r="3.4" fill="#C80F2E" stroke="#A80C28" stroke-width="0.6"/>
<circle cx="348.3" cy="186.6" r="3.4" fill="#C80F2E" stroke="#A80C28" stroke-width="0.6"/>
<circle cx="371.4" cy="190" r="3.4" fill="#C80F2E" stroke="#A80C28" stroke-width="0.6"/>
<circle cx="348.3" cy="196.6" r="3.4" fill="#C80F2E" stroke="#A80C28" stroke-width="0.6"/>
<circle cx="355.8" cy="195.7" r="3.4" fill="#C80F2E" stroke="#A80C28" stroke-width="0.6"/>
<circle cx="363.5" cy="195.3" r="3.4" fill="#C80F2E" stroke="#A80C28" stroke-width="0.6"/>
<circle cx="363.5" cy="202.8" r="3.4" fill="#C80F2E" stroke="#A80C28" stroke-width="0.6"/>
<circle cx="355.8" cy="205.9" r="3.4" fill="#C80F2E" stroke="#A80C28" stroke-width="0.6"/>
<circle cx="348.2" cy="208.5" r="3.4" fill="#C80F2E" stroke="#A80C28" stroke-width="0.6"/>
<circle cx="340.5" cy="212.4" r="3.4" fill="#C80F2E" stroke="#A80C28" stroke-width="0.6"/>
<circle cx="355.8" cy="215.3" r="3.4" fill="#C80F2E" stroke="#A80C28" stroke-width="0.6"/>
<circle cx="363.5" cy="212.7" r="3.4" fill="#C80F2E" stroke="#A80C28" stroke-width="0.6"/>
<circle cx="371.4" cy="211.6" r="3.4" fill="#C80F2E" stroke="#A80C28" stroke-width="0.6"/>
<circle cx="340.5" cy="222.6" r="3.4" fill="#C80F2E" stroke="#A80C28" stroke-width="0.6"/>
<circle cx="371.4" cy="222.4" r="3.4" fill="#C80F2E" stroke="#A80C28" stroke-width="0.6"/>
<circle cx="355.8" cy="229.7" r="3.4" fill="#C80F2E" stroke="#A80C28" stroke-width="0.6"/>
<circle cx="363.5" cy="229.4" r="3.4" fill="#C80F2E" stroke="#A80C28" stroke-width="0.6"/>
<circle cx="355.8" cy="268" r="3.4" fill="#C80F2E" stroke="#A80C28" stroke-width="0.6"/>
<circle cx="413.4" cy="124.7" r="3.3" fill="#2AA8E0" stroke="#2590C8" stroke-width="0.6"/>
<circle cx="413.4" cy="147.2" r="3.3" fill="#2AA8E0" stroke="#2590C8" stroke-width="0.6"/>
<circle cx="408.2" cy="160.5" r="3.3" fill="#2AA8E0" stroke="#2590C8" stroke-width="0.6"/>
<circle cx="429" cy="159.4" r="3.3" fill="#2AA8E0" stroke="#2590C8" stroke-width="0.6"/>
<circle cx="398.3" cy="166.1" r="3.3" fill="#2AA8E0" stroke="#2590C8" stroke-width="0.6"/>
<circle cx="408.2" cy="168.6" r="3.3" fill="#2AA8E0" stroke="#2590C8" stroke-width="0.6"/>
<circle cx="418.6" cy="166.6" r="3.3" fill="#2AA8E0" stroke="#2590C8" stroke-width="0.6"/>
<circle cx="413.4" cy="177.5" r="3.3" fill="#2AA8E0" stroke="#2590C8" stroke-width="0.6"/>
<circle cx="413.4" cy="208.5" r="3.3" fill="#2AA8E0" stroke="#2590C8" stroke-width="0.6"/>
<circle cx="413.4" cy="233.5" r="3.3" fill="#2AA8E0" stroke="#2590C8" stroke-width="0.6"/>
<circle cx="413.4" cy="289.2" r="3.3" fill="#2AA8E0" stroke="#2590C8" stroke-width="0.6"/>
<circle cx="471.2" cy="122.9" r="3.35" fill="#35AB33" stroke="#2C9A2A" stroke-width="0.6"/>
<circle cx="471.2" cy="149.4" r="3.35" fill="#35AB33" stroke="#2C9A2A" stroke-width="0.6"/>
<circle cx="471.2" cy="176.7" r="3.35" fill="#35AB33" stroke="#2C9A2A" stroke-width="0.6"/>
<circle cx="455.8" cy="194.9" r="3.35" fill="#35AB33" stroke="#2C9A2A" stroke-width="0.6"/>
<circle cx="476.6" cy="193.3" r="3.35" fill="#35AB33" stroke="#2C9A2A" stroke-width="0.6"/>
<circle cx="466.1" cy="201.4" r="3.35" fill="#35AB33" stroke="#2C9A2A" stroke-width="0.6"/>
<circle cx="476.4" cy="201.4" r="3.35" fill="#35AB33" stroke="#2C9A2A" stroke-width="0.6"/>
<circle cx="471.2" cy="211.9" r="3.35" fill="#35AB33" stroke="#2C9A2A" stroke-width="0.6"/>
<circle cx="471.2" cy="227" r="3.35" fill="#35AB33" stroke="#2C9A2A" stroke-width="0.6"/>
<circle cx="471.2" cy="244.4" r="3.35" fill="#35AB33" stroke="#2C9A2A" stroke-width="0.6"/>
<circle cx="471.2" cy="265" r="3.35" fill="#35AB33" stroke="#2C9A2A" stroke-width="0.6"/>
</svg>
</body></html>
